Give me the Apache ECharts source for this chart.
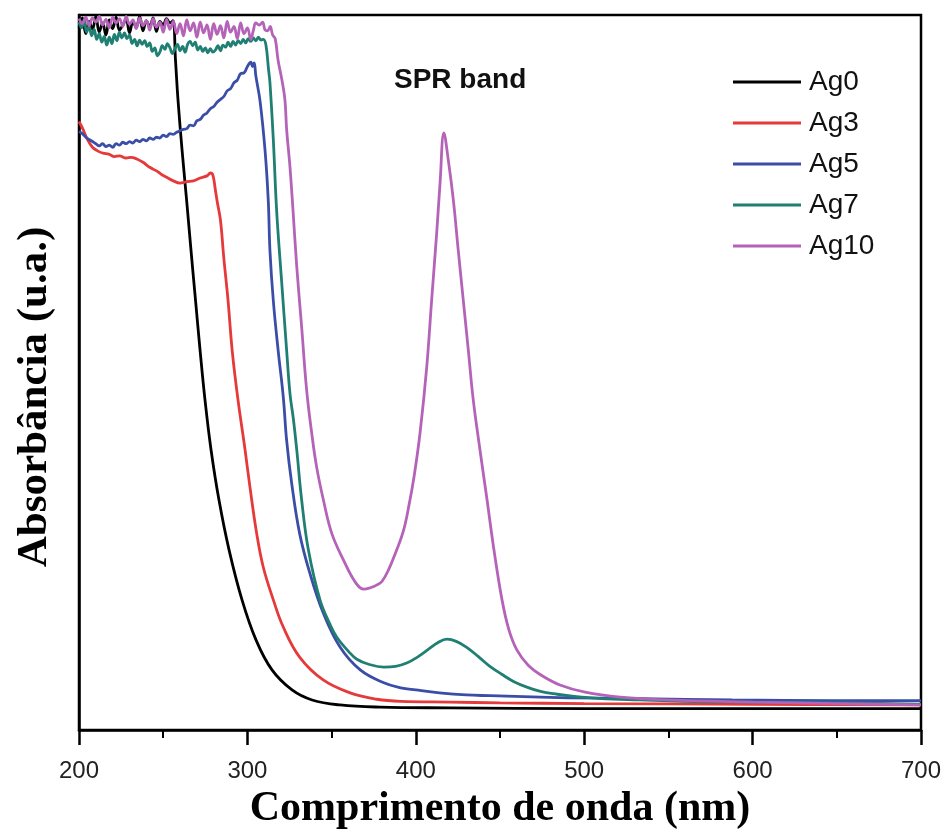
<!DOCTYPE html>
<html>
<head>
<meta charset="utf-8">
<script src="https://cdn.jsdelivr.net/npm/echarts@6/dist/echarts.min.js"></script>
<style>html,body{margin:0;padding:0;background:#fff;}#chart{width:944px;height:830px;}</style>
</head>
<body>
<div id="chart"></div>
<script>
// ---- data (wavelength nm, absorbance a.u.) ----
var seriesNames = ['Ag0', 'Ag3', 'Ag5', 'Ag7', 'Ag10'];
var xTicks = [200, 300, 400, 500, 600, 700];

var ag0 = [[200,98.2],[202,99.6],[204,97.4],[206,99.1],[208,98.0],[210,99.8],[212,97.6],[214,98.9],[216,97.2],[218,99.3],[220,98.1],[222,99.7],[224,97.9],[226,98.6],[228,99.4],[230,97.5],[232,99.0],[234,98.3],[236,99.8],[238,97.8],[240,99.2],[242,98.4],[244,99.6],[246,97.7],[248,99.1],[250,98.6],[252,99.5],[254,98.9],[255.8,99.2],
  [257.3,93.7],[258.8,88.1],[261.2,81.1],[263.9,74.1],[266.5,67.1],[269.2,60.1],[271.9,53.1],[274.8,46.2],[278.4,39.2],[283.1,32.2],[289.1,25.2],[296.8,18.2],[305.1,12.6],[314.6,8.4],[326.5,5.6],[338.4,4.2],[355,3.5],[378.7,3.2],[420,3.1],[500,3.0],[600,3.0],[700,3.0]];

var ag3 = [[200,85.1],[202,84.2],[205,82.6],[208,81.5],[211,81.0],[214,80.7],[218,80.5],[221,80.2],[224,80.3],[228,80.0],[231,80.1],[234,79.9],[238,79.4],[242,78.7],[246,78.2],[249,77.7],[252,77.3],[256,76.8],[260,76.5],[264,76.7],[268,76.8],[272,77.2],[276,77.5],[278,77.9],[279.5,77.6],[281,75.5],[282,74],[284,71.3],[286,66],[288.5,60.1],[291,53],[294.4,46.2],[298.6,39.2],[301.5,34],[305.5,27.5],[309.4,22.8],[315.4,18.2],[321.3,14.4],[331,10.2],[345,7.0],[361,5.2],[377,4.3],[391,4.0],[420,3.9],[450,3.8],[500,3.7],[600,3.6],[700,3.5]];

var ag5 = [[200,83.7],[202,83.4],[204,82.9],[206,82.6],[208,82.3],[210,82.0],[212,81.7],[214,82.0],[216,81.6],[218,81.8],[220,81.5],[222,82.0],[224,81.8],[226,82.2],[228,82.0],[230,82.3],[232,82.1],[234,82.5],[236,82.3],[238,82.6],[240,82.4],[242,82.8],[244,82.6],[246,82.9],[248,82.8],[250,83.2],[252,83.0],[254,83.4],[256,83.3],[258,83.6],[260,83.8],[262,84.0],[264,84.1],[266,84.6],[268,84.5],[270,85.2],[272,85.4],[274,86.0],[276,86.3],[278,86.9],[280,87.2],[282,87.8],[284,88.2],[286,88.6],[288,89.4],[290,89.7],[292,90.5],[294,90.9],[296,91.8],[298,91.9],[300,92.8],[302,93.4],[303,92.8],[304,93.3],[305,91.5],[307.5,88],[310.5,81],[312.4,74],[313.4,67],[315.4,60],[318.3,53],[321.3,46.6],[323.3,40.5],[326.3,34.5],[331,27.5],[337,22],[345,16.4],[355,11.6],[367,8.4],[381,6.6],[391,5.9],[400,5.6],[414,5.2],[430,4.9],[444,4.8],[474,4.6],[490,4.5],[533,4.4],[588,4.2],[650,4.1],[700,4.1]];

var ag7 = [[200,99.0],[201.5,98.2],[203,99.3],[204.5,97.6],[206,98.4],[207.5,97.1],[209,98.0],[210.5,96.6],[212,97.4],[213.5,96.2],[215,97.0],[216.5,95.8],[218,96.9],[219.5,96.0],[221,97.3],[222.5,96.4],[224,97.6],[225.5,96.8],[227,97.5],[228.5,96.7],[230,97.2],[231.5,96.0],[233,96.6],[234.5,95.7],[236,96.5],[237.5,95.9],[239,96.4],[240.5,95.6],[242,96.1],[243.5,94.9],[245,95.4],[246.5,94.3],[248,94.8],[249.5,95.7],[251,95.2],[252.5,96.0],[254,95.4],[255.5,94.6],[257,95.3],[258.5,95.9],[260,95.0],[261.5,95.6],[263,94.8],[264.5,95.9],[266,96.3],[267.5,95.7],[269,96.2],[270.5,95.1],[272,95.6],[273.5,94.9],[275,95.4],[276.5,94.7],[278,95.3],[279.5,94.8],[281,95.1],[282.5,95.7],[284,95.0],[285.5,95.8],[287,95.5],[288.5,96.2],[290,95.6],[291.5,96.3],[293,95.8],[294.5,96.4],[296,96.0],[297.5,96.6],[299,96.1],[300.5,96.7],[302,96.3],[303.5,96.8],[305,96.4],[306.5,96.9],[308,96.5],[309.5,96.6],[311,95.8],
  [312.5,92.5],[313.4,90.5],[315.4,82.5],[317.4,72.5],[320.4,62.5],[323.3,53.1],[325.3,47],[327.3,43.5],[329.3,39.2],[332.2,32.2],[336.2,25.2],[343.1,18.2],[349,14.8],[353,13],[360,11.0],[365,9.9],[372,9.2],[381,8.8],[388,8.9],[395,9.4],[401,10.2],[407,11.2],[413,12.2],[418.5,12.7],[424,12.4],[430,11.6],[437,10.3],[444,8.9],[451,7.8],[458,6.8],[466,6.0],[474,5.4],[484,5.0],[494,4.7],[510,4.4],[533,4.2],[560,4.0],[600,3.9],[650,3.8],[700,3.6]];

var ag10 = [[200,99.5],[202,98.8],[204,99.7],[206,98.5],[208,99.6],[210,99.0],[212,99.8],[214,98.6],[216,99.4],[218,98.2],[220,99.7],[222,98.9],[224,99.5],[226,98.4],[228,99.8],[230,98.7],[232,99.3],[234,98.1],[236,99.6],[238,98.5],[240,99.2],[242,97.9],[244,99.5],[246,98.3],[248,99.0],[250,97.6],[252,99.4],[254,98.0],[256,99.1],[258,97.4],[260,98.8],[262,97.1],[264,99.3],[266,97.8],[268,98.9],[270,96.9],[272,99.0],[274,97.5],[276,98.6],[278,96.6],[280,98.8],[282,97.3],[284,98.5],[286,96.8],[288,99.1],[290,97.6],[292,98.4],[294,96.7],[296,98.9],[298,97.4],[300,98.2],[302,96.6],[303.5,97.8],[305,98.9],[307,98.6],[309,99.0],[310.5,97.9],[312,97.8],[313.5,98.4],[315,97.2],[316.5,96.7],
  [318.2,93.7],[320.5,90.9],[322.3,88.1],[323.3,84],[325.3,78.7],[327,73],[329.3,64.8],[332.2,56.4],[335.2,47.5],[338.2,41.5],[341.1,36.8],[345.1,32.2],[350.1,27.5],[357,23.8],[364,20.7],[369,19.7],[373,19.9],[377,20.3],[380,20.8],[384,22.5],[388,24.8],[392.6,27.8],[396,31.5],[399,35.5],[402.5,41.5],[406.5,50.8],[409.4,60.1],[412.4,69.5],[414.4,76.5],[416.7,83.5],[419.3,79.7],[422.3,74.1],[425.2,67.1],[428.2,60.1],[431.2,53.1],[434.1,46.2],[438.1,39.2],[442.3,32.2],[446.4,25.2],[451.2,18.2],[455.3,14.0],[460,11.2],[466.6,9.1],[474.3,7.7],[485.6,6.3],[500.5,5.3],[521.3,4.6],[549,4.2],[600,3.9],[650,3.7],[700,3.5]];

var allData = [ag0, ag3, ag5, ag7, ag10];
var colors = ['#000000', '#e5393a', '#3a4ea8', '#1f7f72', '#b463b8'];

var chart = echarts.init(document.getElementById('chart'), null, {renderer: 'canvas'});
var series = seriesNames.map(function (n, i) {
  return {
    name: n, type: 'line', data: allData[i], showSymbol: false, symbol: 'none',
    smooth: 0.4, clip: true, z: 2 + i,
    lineStyle: {color: colors[i], width: 2.8},
    itemStyle: {color: colors[i]}
  };
});

chart.setOption({
  animation: false,
  backgroundColor: '#ffffff',
  grid: {left: 79, right: 23, top: 15, bottom: 100, outerBoundsMode: 'none', containLabel: false,
         show: true, borderColor: '#000', borderWidth: 2.5, backgroundColor: 'transparent'},
  legend: {
    orient: 'vertical', left: 728, top: 63, itemWidth: 68, itemHeight: 3, itemGap: 13,
    icon: 'rect', data: seriesNames,
    textStyle: {fontFamily: 'Liberation Sans', fontSize: 28, color: '#111', padding: [0, 0, 0, 3], lineHeight: 28}
  },
  xAxis: {
    type: 'value', min: xTicks[0], max: xTicks[xTicks.length - 1], interval: 100,
    name: 'Comprimento de onda (nm)', nameLocation: 'middle', nameGap: 57,
    nameTextStyle: {fontFamily: 'Liberation Serif', fontWeight: 'bold', fontSize: 42, color: '#000'},
    axisLine: {show: true, lineStyle: {color: '#000', width: 2.5}},
    axisTick: {show: true, inside: false, length: 15, lineStyle: {color: '#000', width: 2.5}},
    minorTick: {show: true, splitNumber: 2, length: 8, lineStyle: {color: '#000', width: 2}},
    axisLabel: {fontFamily: 'Liberation Sans', fontSize: 24, color: '#222', margin: 29},
    splitLine: {show: false}
  },
  yAxis: {
    type: 'value', min: 0, max: 100,
    axisLine: {show: true, lineStyle: {color: '#000', width: 2.5}},
    axisTick: {show: false}, axisLabel: {show: false}, splitLine: {show: false}
  },
  graphic: [
    {type: 'text', left: 394, top: 66, style: {text: 'SPR band', fontFamily: 'Liberation Sans', fontWeight: 'bold', fontSize: 28, fill: '#111'}},
    {type: 'text', x: 35, y: 397, rotation: Math.PI / 2,
     style: {text: 'Absorbância (u.a.)', fontFamily: 'Liberation Serif', fontWeight: 'bold', fontSize: 43, fill: '#000', align: 'center', verticalAlign: 'middle'}}
  ],
  series: series
});
</script>
</body>
</html>
